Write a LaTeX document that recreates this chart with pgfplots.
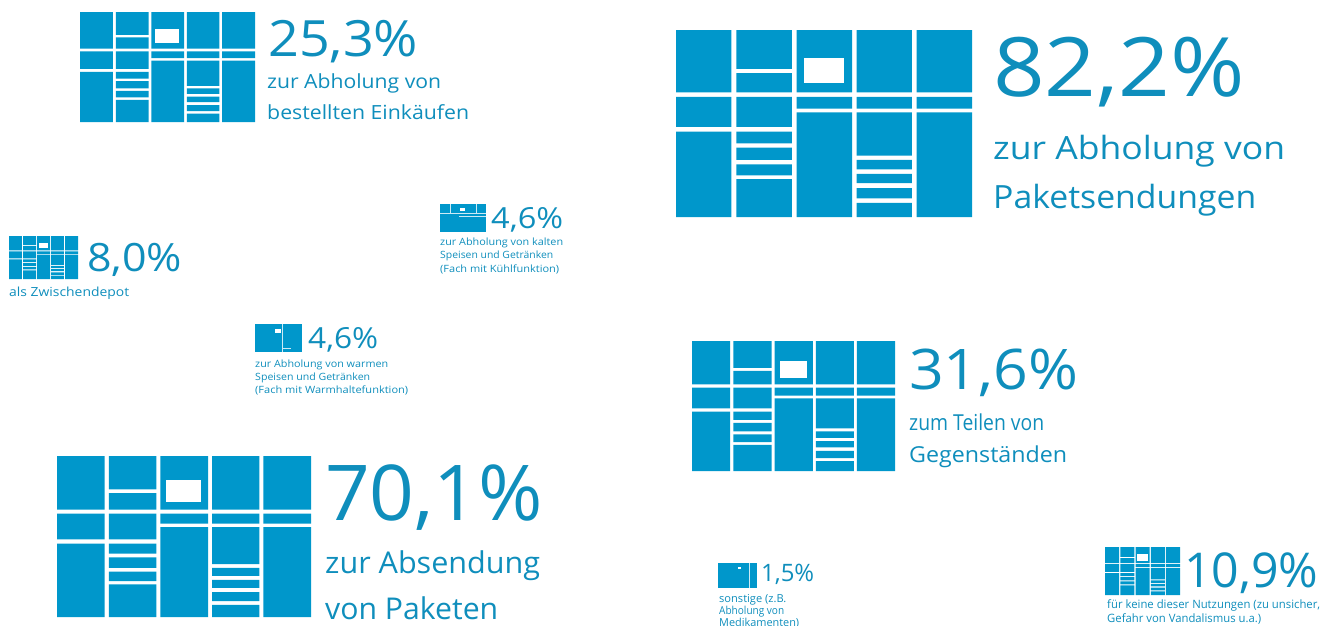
\documentclass[border=0pt]{standalone}
\usepackage{pgfplots}
\usepackage{pgfplotstable}
\usepackage{graphicx}
\usepackage{fontspec}
\setmainfont{Open Sans}
\pgfplotsset{compat=1.18}
\definecolor{lockerblue}{HTML}{0097CB}
\definecolor{txtblue}{HTML}{0F8EBC}
\colorlet{lockerline}{white!80!lockerblue}
\pgfplotstableread{
x y
0 0
.1874 0
.1874 .3333
0 .3333
nan nan
0 .358
.1874 .358
.1874 .518
0 .518
nan nan
0 .544
.1874 .544
.1874 1
0 1
nan nan
.2043 0
.3917 0
.3917 .2074
.2043 .2074
nan nan
.2043 .2305
.3917 .2305
.3917 .3333
.2043 .3333
nan nan
.2043 .358
.3917 .358
.3917 .518
.2043 .518
nan nan
.2043 .544
.3917 .544
.3917 .606
.2043 .606
nan nan
.2043 .629
.3917 .629
.3917 .695
.2043 .695
nan nan
.2043 .718
.3917 .718
.3917 .777
.2043 .777
nan nan
.2043 .798
.3917 .798
.3917 1
.2043 1
nan nan
.4074 0
.5948 0
.5948 .3333
.4074 .3333
nan nan
.4074 .358
.5948 .358
.5948 .420
.4074 .420
nan nan
.4074 .441
.5948 .441
.5948 1
.4074 1
nan nan
.6105 0
.7969 0
.7969 .3333
.6105 .3333
nan nan
.6105 .358
.7969 .358
.7969 .420
.6105 .420
nan nan
.6105 .441
.7969 .441
.7969 .672
.6105 .672
nan nan
.6105 .695
.7969 .695
.7969 .745
.6105 .745
nan nan
.6105 .770
.7969 .770
.7969 .819
.6105 .819
nan nan
.6105 .846
.7969 .846
.7969 .901
.6105 .901
nan nan
.6105 .924
.7969 .924
.7969 1
.6105 1
nan nan
.8126 0
1 0
1 .3333
.8126 .3333
nan nan
.8126 .358
1 .358
1 .420
.8126 .420
nan nan
.8126 .441
1 .441
1 1
.8126 1
}\lockertable
\pgfplotstableread{
x y
.431 .152
.568 .152
.568 .284
.431 .284
}\windowtable
% x0 y0 x1 y1
\newcommand\locker[4]{%
  \addplot[fill=lockerblue,draw=none,unbounded coords=jump,forget plot]
    table[x expr={#1+(#3-#1)*\thisrow{x}},y expr={#2+(#4-#2)*\thisrow{y}}]{\lockertable};
  \addplot[fill=white,draw=none,forget plot]
    table[x expr={#1+(#3-#1)*\thisrow{x}},y expr={#2+(#4-#2)*\thisrow{y}}]{\windowtable};
}
% x0 y0 x1 y1 filled rectangle
\newcommand\rect[5]{%
  \addplot[fill=#5,draw=none,forget plot] coordinates {(#1,#2) (#3,#2) (#3,#4) (#1,#4)};
}
% x baseline size width text
\newcommand\T[5]{%
  \node[anchor=base west,inner sep=0pt,text=txtblue] at (axis cs:#1,#2)
    {\fontsize{#3pt}{#3pt}\selectfont\resizebox{#4pt}{\height}{#5}};
}
\begin{document}
\begin{tikzpicture}
\useasboundingbox (0,0) rectangle (1333pt,625pt);
\begin{axis}[
  anchor=south west,at={(0,0)},
  scale only axis,width=1333pt,height=625pt,
  xmin=0,xmax=1333,ymin=0,ymax=625,y dir=reverse,
  hide axis,
]
\locker{676}{30}{972}{217}
\locker{80}{12}{255}{122}
\locker{692}{341}{895}{471}
\locker{57}{456}{311}{617}
\locker{9}{236}{78}{279}
\locker{1105}{547}{1180}{595}
% partial icons
\rect{440}{204}{486}{232}{lockerblue}
\rect{460}{207.5}{465}{210.5}{white}
\rect{440}{212.6}{486}{213.6}{lockerline}
\rect{459}{215.6}{486}{216.4}{lockerline}
\rect{449.5}{204}{450.3}{212.6}{lockerline}
\rect{476}{204}{476.8}{212.6}{lockerline}
\rect{255}{324}{302}{352}{lockerblue}
\rect{275}{329}{281}{332.5}{white}
\rect{282}{324}{282.9}{352}{lockerline}
\rect{282.9}{347.6}{291}{348.4}{lockerline}
\rect{718}{563}{757}{588}{lockerblue}
\rect{738}{567}{741}{569}{white}
\rect{749}{563}{749.9}{588}{lockerline}
% texts
\T{993}{96}{82}{252}{82,2\%}
\T{993}{159}{32}{292}{zur Abholung von}
\T{993}{208}{32}{263}{Paketsendungen}
\T{268}{56}{50}{150}{25,3\%}
\T{267}{88}{19.5}{174}{zur Abholung von}
\T{267}{119}{19.5}{202}{bestellten Einkäufen}
\T{909}{389}{56}{169}{31,6\%}
\T{909}{430}{22}{135}{zum Teilen von}
\T{909}{462}{22}{158}{Gegenständen}
\T{325}{520}{77}{218}{70,1\%}
\T{325}{573}{30}{215}{zur Absendung}
\T{325}{619}{30}{173}{von Paketen}
\T{87}{271}{39}{95}{8,0\%}
\T{9}{296}{12.5}{120}{als Zwischendepot}
\T{491}{228}{29}{72}{4,6\%}
\T{440}{245}{10}{123}{zur Abholung von kalten}
\T{440}{258.5}{10}{113}{Speisen und Getränken}
\T{440}{272}{10}{119}{(Fach mit Kühlfunktion)}
\T{308}{348.5}{29}{70}{4,6\%}
\T{255}{367}{10}{133}{zur Abholung von warmen}
\T{255}{380}{10}{115}{Speisen und Getränken}
\T{255}{393}{10}{153}{(Fach mit Warmhaltefunktion)}
\T{761}{581.5}{24}{53}{1,5\%}
\T{719}{602}{11}{67}{sonstige (z.B.}
\T{719}{614}{11}{65}{Abholung von}
\T{719}{626}{11}{80}{Medikamenten)}
\T{1184}{587}{48}{134}{10,9\%}
\T{1107}{608}{11.5}{213}{für keine dieser Nutzungen (zu unsicher,}
\T{1107}{622}{11.5}{154}{Gefahr von Vandalismus u.a.)}
\end{axis}
\end{tikzpicture}
\end{document}
